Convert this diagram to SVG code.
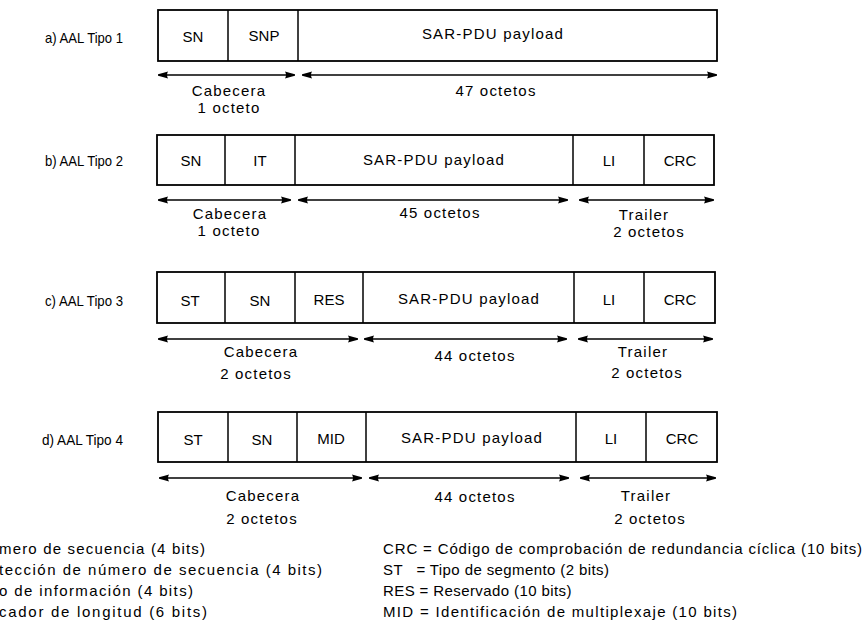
<svg xmlns="http://www.w3.org/2000/svg" width="865" height="630" viewBox="0 0 865 630">
  <style>
    text { font-family: "Liberation Sans", Arial, sans-serif; font-size: 15px; fill: #000; dominant-baseline: central; }
    .c { text-anchor: middle; }
    .lbl { text-anchor: end; }
    .sp { letter-spacing: 1.2px; }
    .ls { letter-spacing: 0.4px; }
    .box { fill: #fff; stroke: #000; stroke-width: 1.8; }
    .div { stroke: #000; stroke-width: 1.5; }
    .dim { stroke: #000; stroke-width: 1.7; fill: none; marker-start: url(#head); marker-end: url(#head); }
  </style>
  <defs>
    <marker id="head" viewBox="0 0 10 8" refX="10" refY="4" markerWidth="10" markerHeight="8" markerUnits="userSpaceOnUse" orient="auto-start-reverse">
      <path d="M0,0.4 Q6,2 9,2.9 Q10.4,4 9,5.1 Q6,6 0,7.6 Q2,4 0,0.4 Z" fill="#000"/>
    </marker>
  </defs>
  <rect width="865" height="630" fill="#fff"/>

  <!-- a) AAL type 1 cell -->
  <g id="aal1">
    <text class="lbl" x="123" y="37" textLength="78" lengthAdjust="spacingAndGlyphs">a) AAL Tipo 1</text>
    <rect class="box" x="158" y="10" width="559" height="51"/>
    <line class="div" x1="228" y1="10" x2="228" y2="61"/>
    <line class="div" x1="298" y1="10" x2="298" y2="61"/>
    <text class="c" x="193" y="36">SN</text>
    <text class="c" x="264" y="35">SNP</text>
    <text class="c sp" x="493" y="33">SAR-PDU payload</text>
    <text class="c sp" x="229" y="90">Cabecera</text>
    <text class="c sp" x="229" y="107">1 octeto</text>
    <text class="c sp" x="496" y="90">47 octetos</text>
  </g>

  <!-- b) AAL type 2 cell -->
  <g id="aal2">
    <text class="lbl" x="123" y="160" textLength="78" lengthAdjust="spacingAndGlyphs">b) AAL Tipo 2</text>
    <rect class="box" x="157" y="135" width="557" height="50"/>
    <line class="div" x1="225" y1="135" x2="225" y2="185"/>
    <line class="div" x1="295" y1="135" x2="295" y2="185"/>
    <line class="div" x1="573" y1="135" x2="573" y2="185"/>
    <line class="div" x1="644" y1="135" x2="644" y2="185"/>
    <text class="c" x="191" y="160">SN</text>
    <text class="c" x="260" y="160">IT</text>
    <text class="c sp" x="434" y="159">SAR-PDU payload</text>
    <text class="c" x="609" y="160">LI</text>
    <text class="c" x="680" y="160">CRC</text>
    <text class="c sp" x="230" y="213">Cabecera</text>
    <text class="c sp" x="229" y="230">1 octeto</text>
    <text class="c sp" x="440" y="212">45 octetos</text>
    <text class="c sp" x="644" y="214">Trailer</text>
    <text class="c sp" x="649" y="231">2 octetos</text>
  </g>

  <!-- c) AAL type 3 cell -->
  <g id="aal3">
    <text class="lbl" x="123" y="300" textLength="78" lengthAdjust="spacingAndGlyphs">c) AAL Tipo 3</text>
    <rect class="box" x="157" y="272" width="558" height="51"/>
    <line class="div" x1="225" y1="272" x2="225" y2="323"/>
    <line class="div" x1="295" y1="272" x2="295" y2="323"/>
    <line class="div" x1="363" y1="272" x2="363" y2="323"/>
    <line class="div" x1="574" y1="272" x2="574" y2="323"/>
    <line class="div" x1="644" y1="272" x2="644" y2="323"/>
    <text class="c" x="190" y="300">ST</text>
    <text class="c" x="260" y="300">SN</text>
    <text class="c" x="329" y="299">RES</text>
    <text class="c sp" x="469" y="298">SAR-PDU payload</text>
    <text class="c" x="609" y="299">LI</text>
    <text class="c" x="680" y="299">CRC</text>
    <text class="c sp" x="261" y="351">Cabecera</text>
    <text class="c sp" x="256" y="373">2 octetos</text>
    <text class="c sp" x="475" y="355">44 octetos</text>
    <text class="c sp" x="643" y="351">Trailer</text>
    <text class="c sp" x="647" y="372">2 octetos</text>
  </g>

  <!-- d) AAL type 4 cell -->
  <g id="aal4">
    <text class="lbl" x="123" y="439" textLength="81" lengthAdjust="spacingAndGlyphs">d) AAL Tipo 4</text>
    <rect class="box" x="158" y="412" width="559" height="50"/>
    <line class="div" x1="228" y1="412" x2="228" y2="462"/>
    <line class="div" x1="297" y1="412" x2="297" y2="462"/>
    <line class="div" x1="366" y1="412" x2="366" y2="462"/>
    <line class="div" x1="576" y1="412" x2="576" y2="462"/>
    <line class="div" x1="646" y1="412" x2="646" y2="462"/>
    <text class="c" x="193" y="439">ST</text>
    <text class="c" x="262" y="439">SN</text>
    <text class="c" x="331" y="438">MID</text>
    <text class="c sp" x="472" y="437">SAR-PDU payload</text>
    <text class="c" x="611" y="438">LI</text>
    <text class="c" x="682" y="438">CRC</text>
    <text class="c sp" x="263" y="495">Cabecera</text>
    <text class="c sp" x="262" y="518">2 octetos</text>
    <text class="c sp" x="475" y="496">44 octetos</text>
    <text class="c sp" x="646" y="495">Trailer</text>
    <text class="c sp" x="650" y="518">2 octetos</text>
  </g>

  <!-- dimension arrows under each cell -->
  <g id="connectors">
    <line class="dim" x1="158" y1="75" x2="295" y2="75"/>
    <line class="dim" x1="302" y1="75" x2="717" y2="75"/>

    <line class="dim" x1="158" y1="200" x2="291" y2="200"/>
    <line class="dim" x1="298" y1="200" x2="568" y2="200"/>
    <line class="dim" x1="579" y1="200" x2="714" y2="200"/>

    <line class="dim" x1="158" y1="339" x2="358" y2="339"/>
    <line class="dim" x1="364" y1="339" x2="567" y2="339"/>
    <line class="dim" x1="578" y1="339" x2="713" y2="339"/>

    <line class="dim" x1="159" y1="478" x2="362" y2="478"/>
    <line class="dim" x1="369" y1="478" x2="569" y2="478"/>
    <line class="dim" x1="580" y1="478" x2="716" y2="478"/>
  </g>

  <!-- field legend -->
  <g id="legend">
    <text x="-1" y="548" textLength="206" lengthAdjust="spacing">mero de secuencia (4 bits)</text>
    <text x="-1" y="569" textLength="323" lengthAdjust="spacing">tección de número de secuencia (4 bits)</text>
    <text x="-1" y="590" textLength="194" lengthAdjust="spacing">o de información (4 bits)</text>
    <text x="-1" y="611" textLength="208" lengthAdjust="spacing">cador de longitud (6 bits)</text>
    <text x="383" y="548" textLength="479" lengthAdjust="spacing">CRC = Código de comprobación de redundancia cíclica (10 bits)</text>
    <text class="ls" x="383" y="569" xml:space="preserve">ST   = Tipo de segmento (2 bits)</text>
    <text class="ls" x="383" y="590">RES = Reservado (10 bits)</text>
    <text x="383" y="611" textLength="354" lengthAdjust="spacing">MID  = Identificación de multiplexaje (10 bits)</text>
  </g>
</svg>
